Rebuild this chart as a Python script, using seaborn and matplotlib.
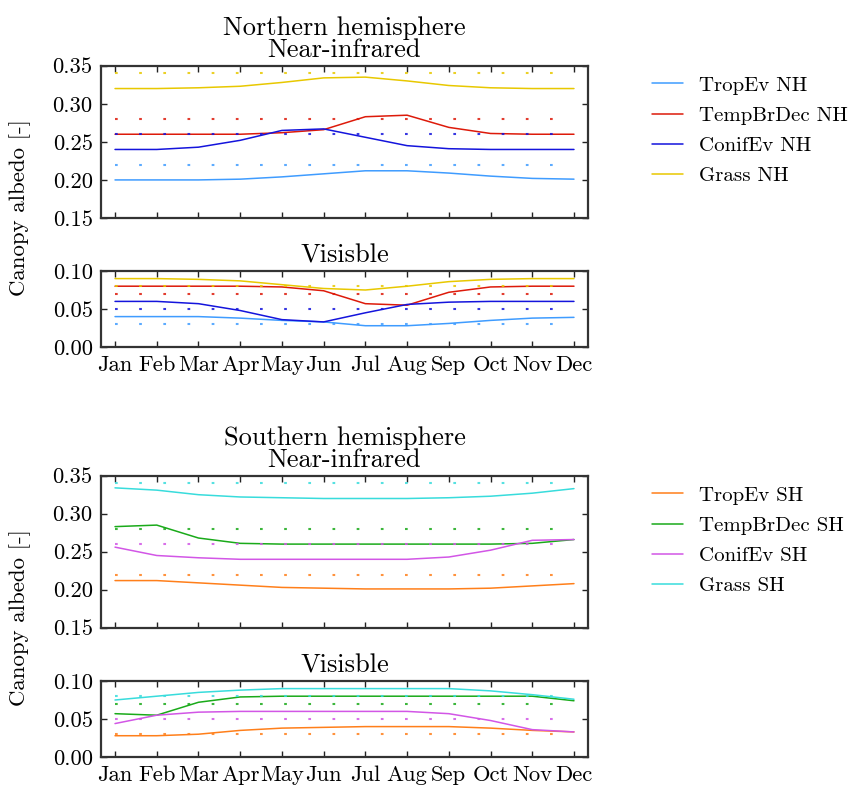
import numpy as np
import pandas as pd
import matplotlib
matplotlib.use("Agg")
import matplotlib.pyplot as plt
import seaborn as sns

months = ["Jan", "Feb", "Mar", "Apr", "May", "Jun", "Jul", "Aug", "Sep", "Oct", "Nov", "Dec"]
pfts = ["TropEv", "TempBrDec", "ConifEv", "Grass"]

# Northern hemisphere
nh_nir_tropev = [0.200, 0.200, 0.200, 0.201, 0.204, 0.208, 0.212, 0.212, 0.209, 0.205, 0.202, 0.201]
nh_nir_tempbr = [0.260, 0.260, 0.260, 0.260, 0.262, 0.266, 0.283, 0.285, 0.269, 0.261, 0.260, 0.260]
nh_nir_conif = [0.240, 0.240, 0.243, 0.252, 0.265, 0.267, 0.256, 0.245, 0.241, 0.240, 0.240, 0.240]
nh_nir_grass = [0.320, 0.320, 0.321, 0.323, 0.328, 0.334, 0.335, 0.330, 0.324, 0.321, 0.320, 0.320]

nh_vis_tropev = [0.040, 0.040, 0.040, 0.038, 0.035, 0.033, 0.028, 0.028, 0.031, 0.035, 0.038, 0.039]
nh_vis_tempbr = [0.080, 0.080, 0.080, 0.080, 0.079, 0.074, 0.057, 0.055, 0.072, 0.079, 0.080, 0.080]
nh_vis_conif = [0.060, 0.060, 0.057, 0.048, 0.036, 0.033, 0.045, 0.056, 0.059, 0.060, 0.060, 0.060]
nh_vis_grass = [0.090, 0.090, 0.089, 0.087, 0.082, 0.077, 0.075, 0.080, 0.086, 0.089, 0.090, 0.090]

# Southern hemisphere
sh_nir_tropev = [0.212, 0.212, 0.209, 0.206, 0.203, 0.202, 0.201, 0.201, 0.201, 0.202, 0.205, 0.208]
sh_nir_tempbr = [0.283, 0.285, 0.268, 0.261, 0.260, 0.260, 0.260, 0.260, 0.260, 0.260, 0.261, 0.266]
sh_nir_conif = [0.256, 0.245, 0.242, 0.240, 0.240, 0.240, 0.240, 0.240, 0.243, 0.252, 0.265, 0.266]
sh_nir_grass = [0.334, 0.331, 0.325, 0.322, 0.321, 0.320, 0.320, 0.320, 0.321, 0.323, 0.327, 0.333]

sh_vis_tropev = [0.028, 0.028, 0.030, 0.035, 0.038, 0.039, 0.040, 0.040, 0.040, 0.038, 0.035, 0.033]
sh_vis_tempbr = [0.057, 0.055, 0.072, 0.079, 0.080, 0.080, 0.080, 0.080, 0.080, 0.080, 0.080, 0.074]
sh_vis_conif = [0.044, 0.055, 0.059, 0.060, 0.060, 0.060, 0.060, 0.060, 0.057, 0.048, 0.036, 0.033]
sh_vis_grass = [0.075, 0.080, 0.085, 0.088, 0.090, 0.090, 0.090, 0.090, 0.090, 0.087, 0.082, 0.076]

# constant reference albedos (dotted)
ref_nir = [0.22, 0.28, 0.26, 0.34]
ref_vis = [0.03, 0.07, 0.05, 0.08]

nh_colors = ["#3f9cff", "#dd1a0a", "#1414dc", "#e8c800"]
sh_colors = ["#ff7f1a", "#1aaa1a", "#d256e6", "#38dcdc"]

sns.set_style("ticks")
plt.rcParams["font.family"] = ["cmr10", "DejaVu Serif"]
plt.rcParams["mathtext.fontset"] = "cm"
plt.rcParams["axes.unicode_minus"] = False
plt.rcParams["axes.formatter.use_mathtext"] = True
for k in ["text.color", "axes.labelcolor", "xtick.labelcolor", "ytick.labelcolor",
          "axes.titlecolor"]:
    plt.rcParams[k] = "black"

FS_TICK = 16.3
FS_TITLE = 19
FS_LEG = 15
FS_YL = 16.5

fig = plt.figure(figsize=(8.6, 7.89), dpi=100)

L, W = 101 / 860, 487 / 860
H = 789
def box(top, bot):
    return [L, 1 - bot / H, W, (bot - top) / H]

ax1 = fig.add_axes(box(65.7, 218))
ax2 = fig.add_axes(box(271, 347))
ax3 = fig.add_axes(box(475.7, 627.7))
ax4 = fig.add_axes(box(681, 757))

x = np.arange(1, 13)
dot_style = (0, (1.3, 10.3))

def draw(ax, series, refs, colors, labels=None):
    for i, (vals, ref, c) in enumerate(zip(series, refs, colors)):
        sns.lineplot(x=x, y=vals, color=c, lw=1.1, ax=ax,
                     label=(labels[i] if labels else None), legend=False)
        sns.lineplot(x=[1, 12], y=[ref, ref], color=c, lw=1.5,
                     linestyle=dot_style, ax=ax, legend=False, alpha=0.85)

def style(ax, ylim, yticks, fmt, xlabels):
    ax.set_xlim(0.664, 12.336)
    ax.set_ylim(*ylim)
    ax.set_yticks(yticks)
    ax.set_yticklabels([fmt.format(v) for v in yticks], fontsize=FS_TICK)
    ax.set_xticks(x)
    if xlabels:
        ax.set_xticklabels(months, fontsize=FS_TICK)
    else:
        ax.set_xticklabels([])
    ax.tick_params(direction="in", length=4.5, width=1.0, color="#222222",
                   labelcolor="black", top=True, right=True, pad=6)
    for s in ax.spines.values():
        s.set_color("#333333")
        s.set_linewidth(1.6)
    ax.set_xlabel("")
    ax.set_ylabel("")

nh_nir = [nh_nir_tropev, nh_nir_tempbr, nh_nir_conif, nh_nir_grass]
nh_vis = [nh_vis_tropev, nh_vis_tempbr, nh_vis_conif, nh_vis_grass]
sh_nir = [sh_nir_tropev, sh_nir_tempbr, sh_nir_conif, sh_nir_grass]
sh_vis = [sh_vis_tropev, sh_vis_tempbr, sh_vis_conif, sh_vis_grass]

nh_labels = [p + " NH" for p in pfts]
sh_labels = [p + " SH" for p in pfts]

draw(ax1, nh_nir, ref_nir, nh_colors, nh_labels)
draw(ax2, nh_vis, ref_vis, nh_colors)
draw(ax3, sh_nir, ref_nir, sh_colors, sh_labels)
draw(ax4, sh_vis, ref_vis, sh_colors)

nir_ticks = [0.15, 0.20, 0.25, 0.30, 0.35]
vis_ticks = [0.00, 0.05, 0.10]
style(ax1, (0.15, 0.35), nir_ticks, "{:.2f}", False)
style(ax2, (0.0, 0.10), vis_ticks, "{:.2f}", True)
style(ax3, (0.15, 0.35), nir_ticks, "{:.2f}", False)
style(ax4, (0.0, 0.10), vis_ticks, "{:.2f}", True)

ax1.set_title("Northern hemisphere\nNear-infrared", fontsize=FS_TITLE, pad=6,
              linespacing=0.95, color="black")
ax2.set_title("Visisble", fontsize=FS_TITLE, pad=6, color="black")
ax3.set_title("Southern hemisphere\nNear-infrared", fontsize=FS_TITLE, pad=6,
              linespacing=0.95, color="black")
ax4.set_title("Visisble", fontsize=FS_TITLE, pad=6, color="black")

fig.text(20 / 860, 1 - 208 / H, "Canopy albedo [-]", rotation=90, fontsize=FS_YL,
         ha="center", va="center", color="black")
fig.text(20 / 860, 1 - 618 / H, "Canopy albedo [-]", rotation=90, fontsize=FS_YL,
         ha="center", va="center", color="black")

for ax, top in [(ax1, 76), (ax3, 486)]:
    h, l = ax.get_legend_handles_labels()
    leg = ax.legend(h, l, loc="upper left", bbox_to_anchor=(652 / 860, 1 - top / H),
                    bbox_transform=fig.transFigure, frameon=False, fontsize=FS_LEG,
                    handlelength=1.5, handletextpad=0.75, labelspacing=0.56,
                    borderaxespad=0, borderpad=0)
    for t in leg.get_texts():
        t.set_color("black")

fig.savefig("out.png", dpi=100)
